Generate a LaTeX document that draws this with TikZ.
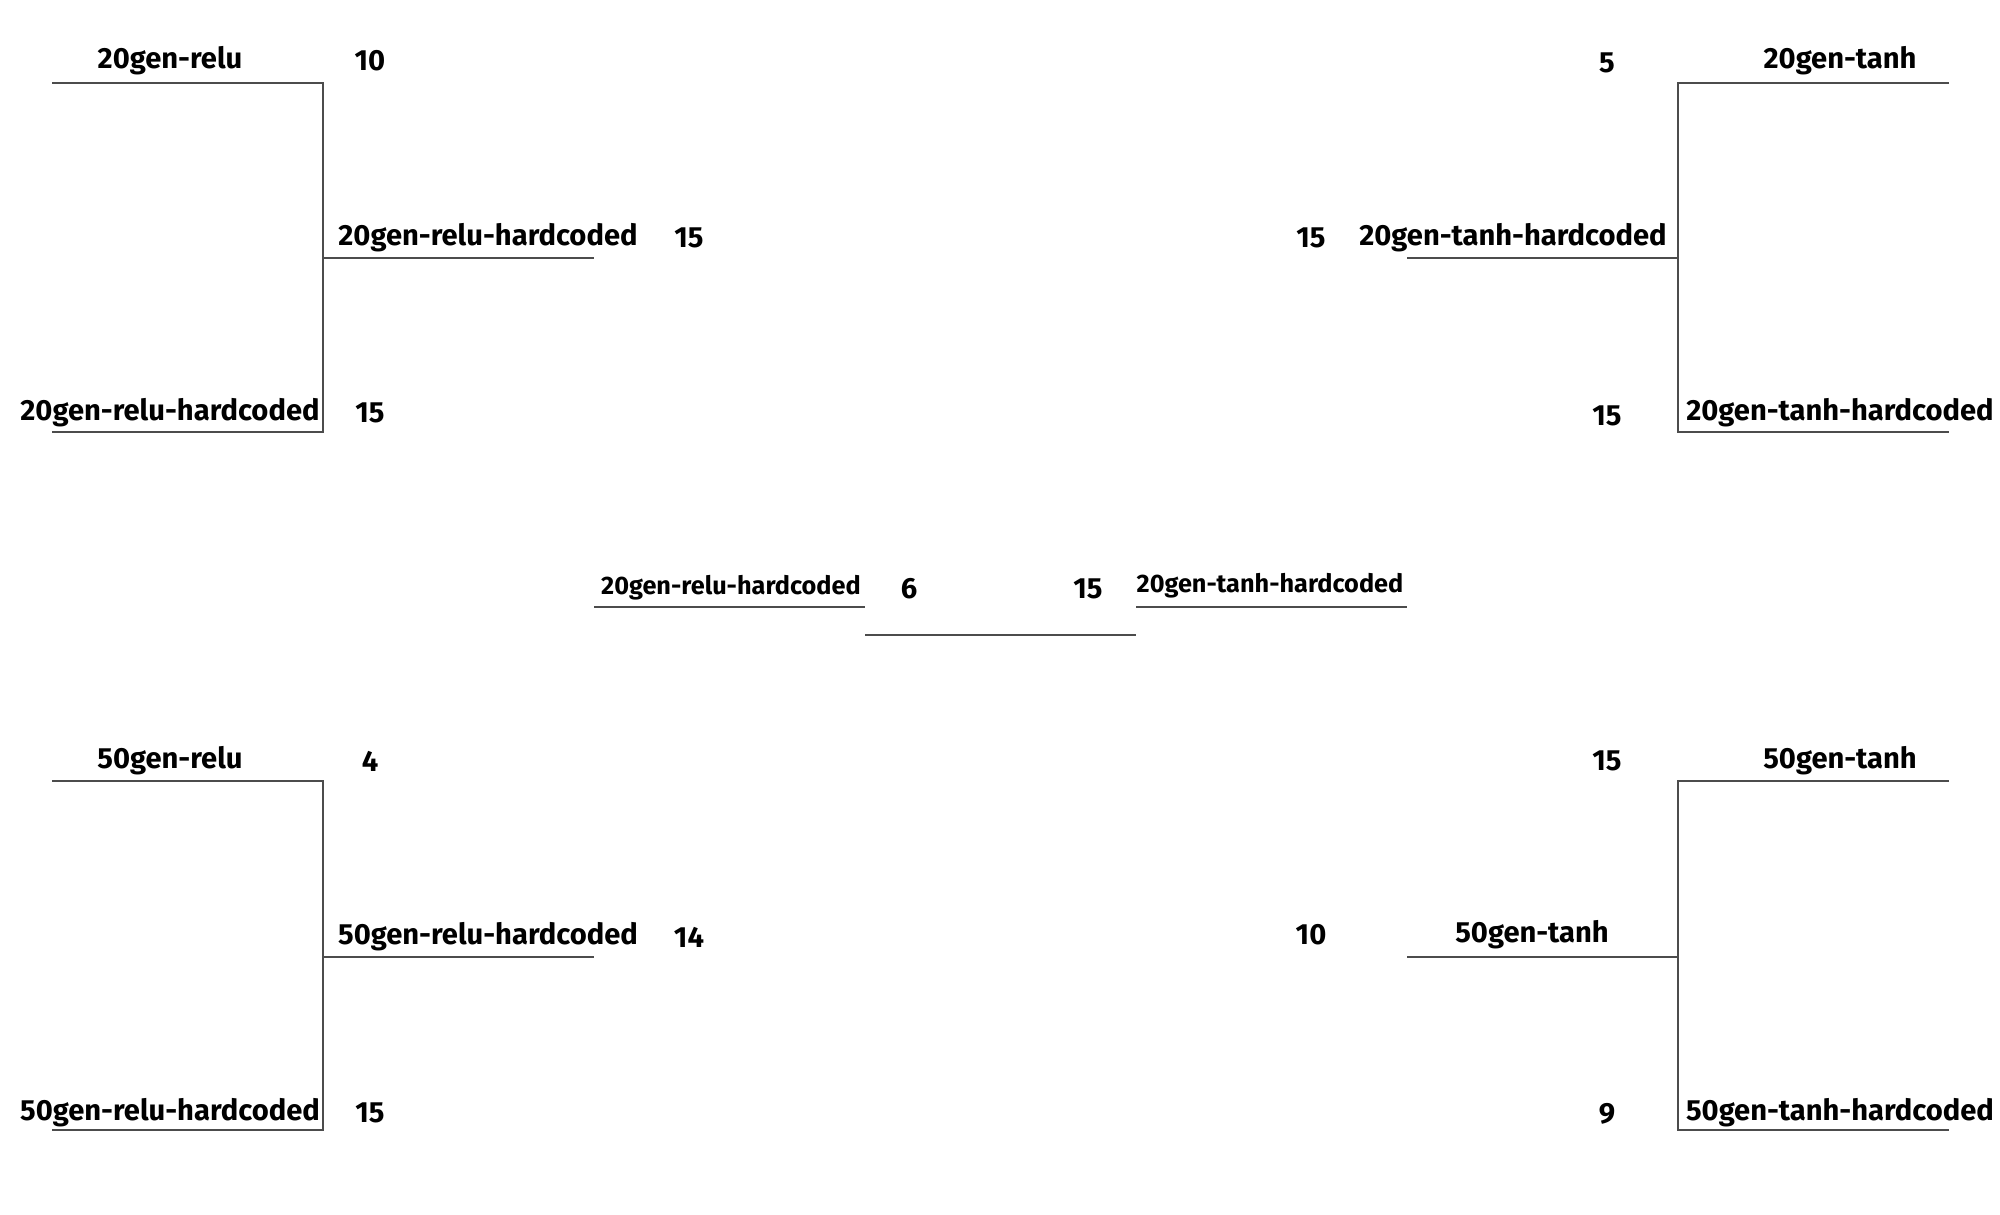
\documentclass[tikz,border=0pt]{standalone}
\usepackage{fontspec}
\setmainfont{Fira Sans}
\usetikzlibrary{positioning}

\tikzset{
  bracket/.style={draw=black!70, line width=0.5pt},
  team/.style={font=\fontsize{8.3}{10}\selectfont\bfseries, inner sep=0pt},
  smallteam/.style={font=\fontsize{7.2}{9}\selectfont\bfseries, inner sep=0pt},
  score/.style={font=\fontsize{8.3}{10}\selectfont\bfseries, inner sep=0pt}
}

\begin{document}
\begin{tikzpicture}
\useasboundingbox (0,0) rectangle (20,12.14);

% top left bracket
\coordinate (a1) at (0.52,11.31);
\coordinate (a2) at (3.23,11.31);
\coordinate (a3) at (3.23,7.82);
\coordinate (a4) at (0.52,7.82);
\coordinate (a5) at (3.23,9.56);
\coordinate (a6) at (5.94,9.56);
\draw[bracket] (a1) -- (a2) -- (a3) -- (a4);
\draw[bracket] (a5) -- (a6);
\node[team] (tl1) at (1.70,11.53) {20gen-relu};
\node[score] (stl1) at (3.70,11.53) {10};
\node[team] (tl2) at (1.70,8.01) {20gen-relu-hardcoded};
\node[score] (stl2) at (3.70,8.01) {15};
\node[team] (tl3) at (4.88,9.76) {20gen-relu-hardcoded};
\node[score] (stl3) at (6.89,9.76) {15};

% top right bracket
\coordinate (b1) at (19.49,11.31);
\coordinate (b2) at (16.78,11.31);
\coordinate (b3) at (16.78,7.82);
\coordinate (b4) at (19.49,7.82);
\coordinate (b5) at (16.78,9.56);
\coordinate (b6) at (14.07,9.56);
\draw[bracket] (b1) -- (b2) -- (b3) -- (b4);
\draw[bracket] (b5) -- (b6);
\node[team] (tr1) at (18.40,11.53) {20gen-tanh};
\node[score] (str1) at (16.07,11.51) {5};
\node[team] (tr2) at (18.40,8.01) {20gen-tanh-hardcoded};
\node[score] (str2) at (16.07,7.98) {15};
\node[team] (tr3) at (15.13,9.76) {20gen-tanh-hardcoded};
\node[score] (str3) at (13.11,9.76) {15};

% final
\coordinate (f1) at (5.94,6.07);
\coordinate (f2) at (8.65,6.07);
\coordinate (f3) at (8.65,5.79);
\coordinate (f4) at (11.36,5.79);
\coordinate (f5) at (11.36,6.07);
\coordinate (f6) at (14.07,6.07);
\draw[bracket] (f1) -- (f2);
\draw[bracket] (f3) -- (f4);
\draw[bracket] (f5) -- (f6);
\node[smallteam] (fl) at (7.31,6.26) {20gen-relu-hardcoded};
\node[score] (sfl) at (9.09,6.25) {6};
\node[score] (sfr) at (10.88,6.25) {15};
\node[smallteam] (fr) at (12.70,6.28) {20gen-tanh-hardcoded};

% bottom left bracket
\coordinate (c1) at (0.52,4.33);
\coordinate (c2) at (3.23,4.33);
\coordinate (c3) at (3.23,0.84);
\coordinate (c4) at (0.52,0.84);
\coordinate (c5) at (3.23,2.57);
\coordinate (c6) at (5.94,2.57);
\draw[bracket] (c1) -- (c2) -- (c3) -- (c4);
\draw[bracket] (c5) -- (c6);
\node[team] (bl1) at (1.70,4.53) {50gen-relu};
\node[score] (sbl1) at (3.70,4.53) {4};
\node[team] (bl2) at (1.70,1.01) {50gen-relu-hardcoded};
\node[score] (sbl2) at (3.70,1.01) {15};
\node[team] (bl3) at (4.88,2.77) {50gen-relu-hardcoded};
\node[score] (sbl3) at (6.89,2.77) {14};

% bottom right bracket
\coordinate (d1) at (19.49,4.33);
\coordinate (d2) at (16.78,4.33);
\coordinate (d3) at (16.78,0.84);
\coordinate (d4) at (19.49,0.84);
\coordinate (d5) at (16.78,2.57);
\coordinate (d6) at (14.07,2.57);
\draw[bracket] (d1) -- (d2) -- (d3) -- (d4);
\draw[bracket] (d5) -- (d6);
\node[team] (br1) at (18.40,4.53) {50gen-tanh};
\node[score] (sbr1) at (16.07,4.53) {15};
\node[team] (br2) at (18.40,1.01) {50gen-tanh-hardcoded};
\node[score] (sbr2) at (16.07,1.00) {9};
\node[team] (br3) at (15.32,2.79) {50gen-tanh};
\node[score] (sbr3) at (13.11,2.79) {10};
\end{tikzpicture}
\end{document}
